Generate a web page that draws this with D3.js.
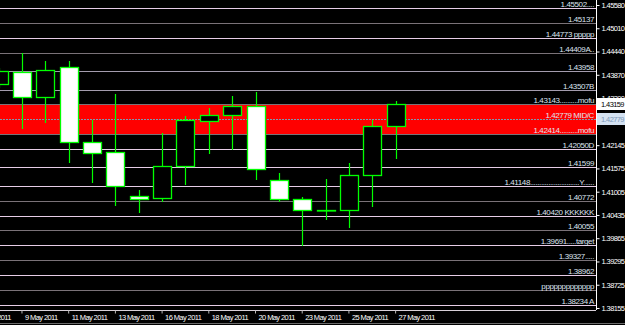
<!DOCTYPE html>
<html>
<head>
<meta charset="utf-8">
<script src="https://cdn.jsdelivr.net/npm/d3@7"></script>
<style>
    body { margin: 0; background: #000; }
    svg { display: block; }
    text { font-family: "Liberation Sans", Arial, sans-serif; font-size: 8px; letter-spacing: -0.4px; }
    .axis text { font-size: 7.5px; letter-spacing: -0.6px; }
</style>
</head>
<body>
<svg id="chart" width="625" height="325"></svg>
<script>
// daily EURUSD-like candles, "6 May" only carries the first date label
const days = ["6 May", "8 May", "9 May", "10 May", "11 May", "12 May", "13 May", "15 May", "16 May", "17 May",
    "18 May", "19 May", "20 May", "22 May", "23 May", "24 May", "25 May", "26 May", "27 May"];
const opens = [null, 1.43644, 1.43938, 1.43326, 1.44061, 1.42223, 1.41978, 1.40900, 1.40851, 1.41635,
    1.42738, 1.42885, 1.43105, 1.41292, 1.40826, 1.40557, 1.40557, 1.41414, 1.42615];
const highs = [null, 1.44036, 1.44404, 1.44208, 1.44208, 1.42762, 1.43399, 1.41047, 1.42444, 1.42860,
    1.43056, 1.43350, 1.43448, 1.41463, 1.40875, 1.41316, 1.41708, 1.42762, 1.43228];
const lows = [null, 1.43546, 1.42542, 1.42689, 1.41708, 1.41218, 1.40655, 1.40483, 1.40753, 1.41169,
    1.41929, 1.42027, 1.41292, 1.40753, 1.39675, 1.40312, 1.40116, 1.40630, 1.41806];
const closes = [null, 1.43963, 1.43326, 1.43987, 1.42223, 1.41953, 1.41145, 1.40826, 1.41635, 1.42762,
    1.42885, 1.43105, 1.41561, 1.40826, 1.40557, 1.40557, 1.41414, 1.42615, 1.43159];

const dateTicks = ["6 May", "9 May", "11 May", "13 May", "16 May", "18 May", "20 May", "23 May", "25 May", "27 May"];

const priceTicks = [1.45580, 1.45010, 1.44440, 1.43870, 1.43300, 1.42145, 1.41575, 1.41005,
    1.40435, 1.39865, 1.39295, 1.38725, 1.38155];

// horizontal levels drawn on the chart
const levels = [1.45502, 1.45137, 1.44773, 1.44409, 1.43958, 1.43507, 1.43143, 1.42779, 1.42414, 1.42050,
    1.41599, 1.41148, 1.40772, 1.40420, 1.40055, 1.39691, 1.39327, 1.38962, 1.38598, 1.38234];
const levelLabels = ["1.45502....", "1.45137", "1.44773  ppppp", "1.44409A..", "1.43958", "1.43507B",
    "1.43143..........mofu", "1.42779  MID/C", "1.42414..........mofu", "1.42050D", "1.41599",
    "1.41148...........................Y......", "1.40772", "1.40420  KKKKKK", "1.40055", "1.39691.....target",
    "1.39327.....", "1.38962", "ppppppppppppp", "1.38234 A"];

const zoneTop = 1.43143, zoneBottom = 1.42414;
const lastPrice = 1.43159, midPrice = 1.42779;

// styles
const PINK = "#e6cce6", GREY = "#7a7278", LAV = "#a49cae";
const levelColors = [PINK, GREY, PINK, GREY, LAV, LAV, GREY, "#7f96b0", GREY, PINK,
    PINK, PINK, GREY, PINK, GREY, PINK, GREY, PINK, GREY, PINK];

let WIDTH = 625,
    HEIGHT = 325,
    PLOT_RIGHT = 596,
    PLOT_BOTTOM = 310;

const svg = d3.select("#chart");
svg.append("rect").attr("width", WIDTH).attr("height", HEIGHT).attr("fill", "#000");

let x = d3.scaleBand().domain(days).range([-36.4, 407.3]).paddingInner(0.23).paddingOuter(0.115),
    y = d3.scaleLinear().domain([1.38155, 1.45580]).range([308, 5]);

const cx = d => Math.round(x(d) + x.bandwidth() / 2);
const py = v => Math.round(y(v)) + 0.5;

// red zone
svg.append("rect")
    .attr("x", 0)
    .attr("y", y(zoneTop))
    .attr("width", PLOT_RIGHT)
    .attr("height", y(zoneBottom) - y(zoneTop))
    .attr("fill", "#ff0000");

// level lines
svg.append("g").selectAll("line").data(levels)
    .enter()
    .append("line")
    .attr("x1", 0)
    .attr("x2", PLOT_RIGHT)
    .attr("y1", d => py(d))
    .attr("y2", d => py(d))
    .attr("stroke", (d, i) => levelColors[i])
    .attr("stroke-dasharray", d => d === midPrice ? "2,1" : null)
    .attr("stroke-width", 1.2);

svg.append("g").selectAll("text").data(levels)
    .enter()
    .append("text")
    .attr("x", PLOT_RIGHT - 2)
    .attr("y", d => py(d) - 2)
    .attr("text-anchor", "end")
    .attr("fill", "#dde4f0")
    .text((d, i) => levelLabels[i]);

// candles
const bars = days.map((d, i) => ({day: d, o: opens[i], h: highs[i], l: lows[i], c: closes[i]}))
    .filter(b => b.o !== null);

const candles = svg.append("g");
candles.selectAll("line").data(bars)
    .enter()
    .append("line")
    .attr("x1", d => cx(d.day) + 0.5)
    .attr("x2", d => cx(d.day) + 0.5)
    .attr("y1", d => y(d.h))
    .attr("y2", d => y(d.l))
    .attr("stroke", "#00ff00")
    .attr("stroke-width", 1.2);

candles.selectAll("rect").data(bars)
    .enter()
    .append("rect")
    .attr("x", d => cx(d.day) - 8.5)
    .attr("y", d => py(Math.max(d.o, d.c)))
    .attr("width", 18)
    .attr("height", d => Math.max(0.5, py(Math.min(d.o, d.c)) - py(Math.max(d.o, d.c))))
    .attr("fill", d => d.c < d.o ? "#ffffff" : "#000000")
    .attr("stroke", "#00ff00")
    .attr("stroke-width", 1.3);

// frame
svg.append("line").attr("x1", PLOT_RIGHT + 0.5).attr("x2", PLOT_RIGHT + 0.5)
    .attr("y1", 0).attr("y2", PLOT_BOTTOM).attr("stroke", "#ffffff");
svg.append("line").attr("x1", 0).attr("x2", PLOT_RIGHT)
    .attr("y1", PLOT_BOTTOM + 0.5).attr("y2", PLOT_BOTTOM + 0.5).attr("stroke", "#d8d0d8");
svg.append("line").attr("x1", 0).attr("x2", WIDTH)
    .attr("y1", 323.5).attr("y2", 323.5).attr("stroke", "#6a6a6a");

// price axis
const yAxis = d3.axisRight(y).tickValues(priceTicks).tickSize(3).tickPadding(2).tickFormat(d3.format(".5f"));
const yg = svg.append("g")
    .attr("class", "axis")
    .attr("transform", "translate(" + (PLOT_RIGHT + 0.5) + ",0)")
    .call(yAxis);
yg.select(".domain").remove();
yg.selectAll("line").attr("stroke", "#ffffff");
yg.selectAll("text").attr("fill", "#ffffff").attr("font-size", null).attr("font-family", null);

// highlighted price labels
const tags = [{v: lastPrice, bg: "#ffffff", fg: "#000000"}, {v: midPrice, bg: "#d4e2f2", fg: "#7e98b8"}];
const tg = svg.append("g").attr("class", "axis").selectAll("g").data(tags).enter().append("g")
    .attr("transform", d => "translate(" + (PLOT_RIGHT + 1) + "," + Math.round(y(d.v)) + ")");
tg.append("rect").attr("x", 0).attr("y", -6).attr("width", 28).attr("height", 12).attr("fill", d => d.bg);
tg.append("text").attr("x", 4).attr("y", 3).attr("fill", d => d.fg).text(d => d.v.toFixed(5));

// date axis
const xAxis = d3.axisBottom(x).tickValues(dateTicks).tickSize(3).tickPadding(1).tickFormat(d => d + " 2011");
const xg = svg.append("g")
    .attr("class", "axis")
    .attr("transform", "translate(0," + (PLOT_BOTTOM + 0.5) + ")")
    .call(xAxis);
xg.select(".domain").remove();
xg.selectAll("line").attr("stroke", "#bbbbbb");
xg.selectAll("text")
    .attr("fill", "#ffffff")
    .attr("text-anchor", "start")
    .attr("dx", 3)
    .attr("font-size", null)
    .attr("font-family", null);
</script>
</body>
</html>
